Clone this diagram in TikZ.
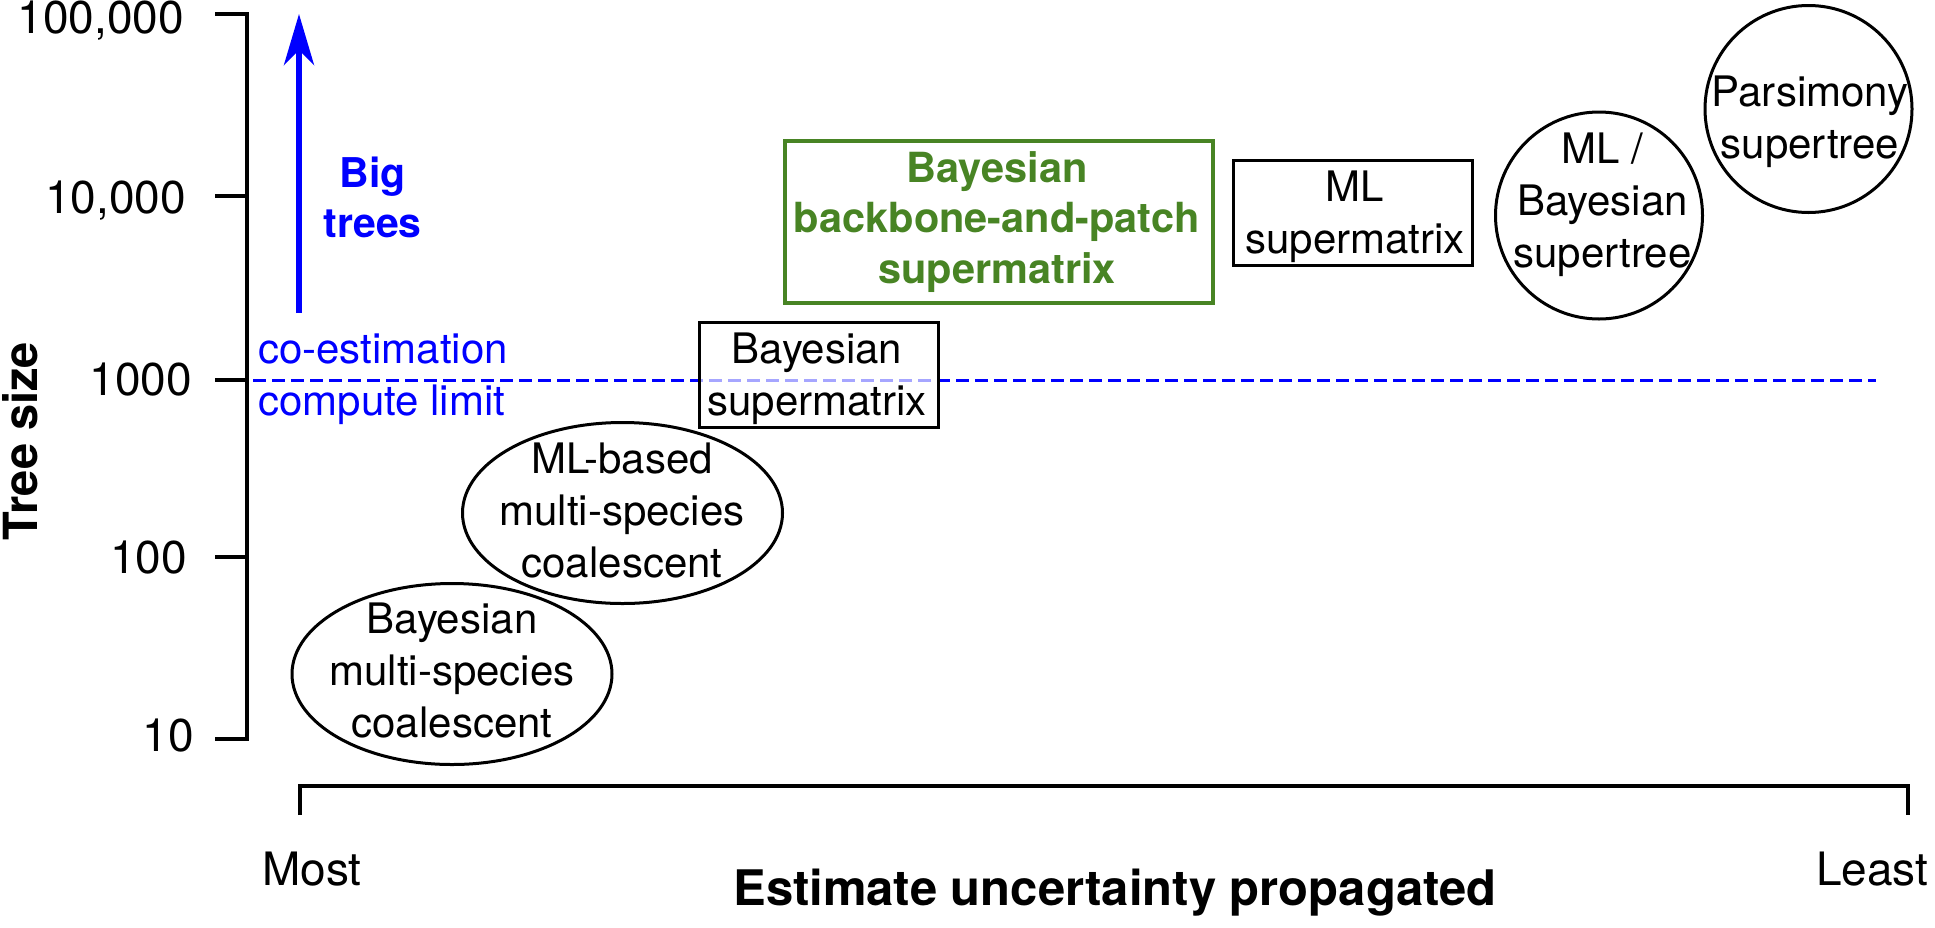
\documentclass[tikz,border=0pt]{standalone}
\usepackage{fontspec}
\setmainfont{TeX Gyre Heros}
\usetikzlibrary{arrows.meta,shapes.geometric}
\definecolor{pgreen}{RGB}{72,132,36}
\definecolor{pblue}{RGB}{0,0,255}
\begin{document}
\begin{tikzpicture}[x=1pt,y=-1pt,
  axisline/.style={line width=3.5pt},
  ticklbl/.style={font=\fontsize{46}{52}\selectfont, inner sep=0pt, anchor=base east},
  axlbl/.style={font=\fontsize{46}{52}\selectfont, inner sep=0pt},
  axtitle/.style={font=\bfseries\fontsize{47}{52}\selectfont, inner sep=0pt},
  lbl/.style={font=\fontsize{42}{52}\selectfont, align=center, inner sep=0pt},
  greenlbl/.style={font=\bfseries\fontsize{41.5}{50.5}\selectfont, text=pgreen, align=center, inner sep=0pt},
  bluelbl/.style={font=\fontsize{42}{52}\selectfont, text=pblue, inner sep=0pt, anchor=base west},
  shapeline/.style={draw=black, line width=3pt},
  boxshape/.style={shapeline, rectangle, inner sep=0pt, minimum width=239pt, minimum height=105pt},
  ovalshape/.style={shapeline, ellipse, inner sep=0pt, minimum width=320pt, minimum height=181pt},
  ringshape/.style={shapeline, circle, inner sep=0pt, minimum size=207pt},
]
\fill[white] (0,0) rectangle (1935,927);
\useasboundingbox (0,0) rectangle (1935,927);

% y axis
\draw[axisline] (215,14) -- (247,14) -- (247,739) -- (215,739);
\foreach \yy in {196,380,557} \draw[axisline] (215,\yy) -- (247,\yy);
\node[ticklbl] (t5) at (184,33) {100,000};
\node[ticklbl] (t4) at (186,213) {10,000};
\node[ticklbl] (t3) at (192,395) {1000};
\node[ticklbl] (t2) at (187,573) {100};
\node[ticklbl] (t1) at (194,751) {10};
\node[axtitle, rotate=90, anchor=base] (ytitle) at (37,441) {Tree size};

% x axis bracket
\draw[axisline] (300,815) -- (300,786) -- (1908,786) -- (1908,815);
\node[axlbl, anchor=base] (most) at (312,885) {Most};
\node[axlbl, anchor=base west] (least) at (1816,885) {Least};
\node[axtitle, font=\bfseries\fontsize{49}{52}\selectfont, anchor=base] (xtitle) at (1115,905) {Estimate uncertainty propagated};

% compute limit
\coordinate (lim-a) at (253,380);
\coordinate (lim-b) at (1876,380);
\draw[pblue, line width=3pt, dash pattern=on 13pt off 6pt] (lim-a) -- (lim-b);
\node[bluelbl] (coest) at (258,363) {co-estimation};
\node[bluelbl] (climit) at (258,415) {compute limit};

% big trees arrow
\coordinate (bt-a) at (299,313);
\coordinate (bt-b) at (299,14);
\draw[pblue, line width=6pt, -{Stealth[length=51pt,width=30pt,inset=15pt]}] (bt-a) -- (bt-b);
\node[font=\bfseries\fontsize{41}{50}\selectfont, text=pblue, align=center, inner sep=0pt] (big) at (372.5,197.5) {Big\\trees};

% methods
\node[ovalshape] (bmsc) at (452,674) {};
\node[lbl] (bmsc-t) at (452,670) {Bayesian\\multi-species\\coalescent};

\node[ovalshape] (mlmsc) at (622.5,513) {};
\node[lbl] (mlmsc-t) at (622,510) {ML-based\\multi-species\\coalescent};

\node[boxshape, fill=white, fill opacity=0.65] (bsm) at (818.5,374.5) {};
\node[lbl] (bsm-t) at (817,378.7) {Bayesian\\supermatrix};

\node[shapeline, draw=pgreen, line width=3.2pt, rectangle, inner sep=0pt, minimum width=428pt, minimum height=162pt] (bbp) at (999,222) {};
\node[greenlbl] (bbp-t) at (997,222) {Bayesian\\backbone-and-patch\\supermatrix};

\node[boxshape] (mlsm) at (1352.5,212.5) {};
\node[lbl] (mlsm-t) at (1355,217) {ML\\supermatrix};

\node[ringshape] (mlbst) at (1599,215.5) {};
\node[lbl] (mlbst-t) at (1602.5,204.5) {ML /\\Bayesian\\supertree};

\node[ringshape] (pst) at (1808.5,109) {};
\node[lbl] (pst-t) at (1810,122) {Parsimony\\supertree};
\end{tikzpicture}
\end{document}
